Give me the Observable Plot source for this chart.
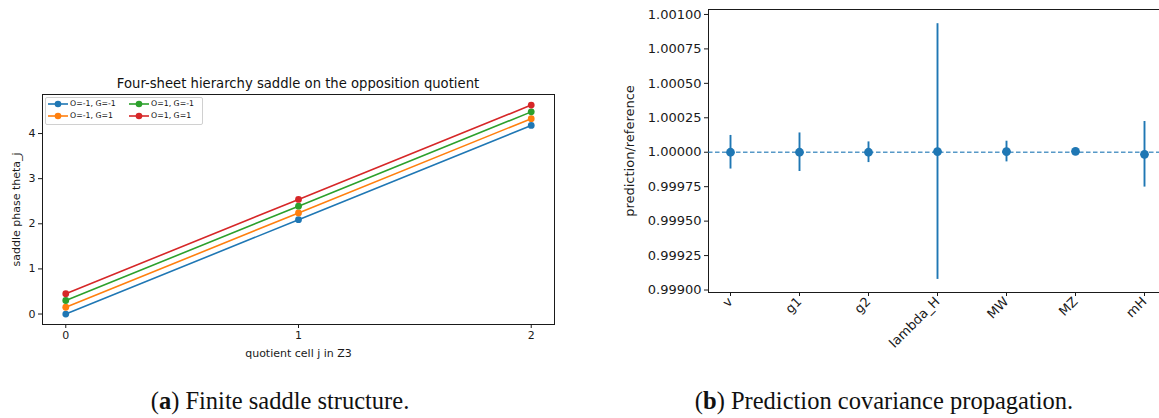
<!DOCTYPE html>
<html>
<head>
<meta charset="utf-8">
<script src="https://cdn.jsdelivr.net/npm/d3@7"></script>
<script src="https://cdn.jsdelivr.net/npm/@observablehq/plot@0.6"></script>
<style>
  html, body { margin: 0; padding: 0; background: #fff; }
  #page { position: relative; width: 1159px; height: 418px; overflow: hidden; font-family: "DejaVu Sans", sans-serif; }
  #panelA { position: absolute; left: 0; top: 0; width: 580px; height: 380px; }
  #panelB { position: absolute; left: 600px; top: 0; width: 580px; height: 380px; }
  #page svg { max-width: none !important; }
  .title { position: absolute; font-size: 13.2px; color: #111; white-space: nowrap; transform: translateX(-50%); }
  .legend { position: absolute; border: 1px solid #d0d0d0; border-radius: 2px; background: rgba(255,255,255,0.85); font-size: 7.8px; color: #111; }
  .legend .item { position: absolute; white-space: nowrap; }
  .legend svg { position: absolute; }
  .caption { position: absolute; font-family: "Liberation Serif", "DejaVu Serif", serif; font-size: 24.5px; color: #111; white-space: nowrap; transform: translateX(-50%); }
  .caption b { font-weight: bold; }
</style>
</head>
<body>
<div id="page">
  <div id="panelA"></div>
  <div id="panelB"></div>
</div>
<script>
// ---------- Panel (a) data ----------
const cells = [0, 1, 2];
const sheetLabels = ["O=-1, G=-1", "O=-1, G=1", "O=1, G=-1", "O=1, G=1"];
const sheetColors = ["#1f77b4", "#ff7f0e", "#2ca02c", "#d62728"];
const thetaOm1Gm1 = [0.00, 2.09, 4.18];
const thetaOm1G1  = [0.15, 2.24, 4.33];
const thetaO1Gm1  = [0.30, 2.39, 4.48];
const thetaO1G1   = [0.45, 2.54, 4.63];
const yTicksA = [0, 1, 2, 3, 4];
const titleA = "Four-sheet hierarchy saddle on the opposition quotient";

// ---------- Panel (b) data ----------
const params = ["v", "g1", "g2", "lambda_H", "MW", "MZ", "mH"];
const ratio  = [1.000000, 1.000000, 1.000000, 1.000005, 1.000005, 1.000007, 0.999985];
const sigma  = [0.000122, 0.000140, 0.000075, 0.000928, 0.000075, 0.000004, 0.000238];
const yTicksB = [0.99900, 0.99925, 0.99950, 0.99975, 1.00000, 1.00025, 1.00050, 1.00075, 1.00100];

const C0 = "#1f77b4";
const ink = "#1a1a1a";

// ---------- Panel (a) ----------
const seriesA = [thetaOm1Gm1, thetaOm1G1, thetaO1Gm1, thetaO1G1];
const rowsA = [];
seriesA.forEach((vals, s) => vals.forEach((v, i) => rowsA.push({j: cells[i], theta: v, sheet: sheetLabels[s]})));

const plotA = Plot.plot({
  width: 580, height: 380,
  marginLeft: 42, marginRight: 26, marginTop: 94, marginBottom: 56,
  style: {fontFamily: "DejaVu Sans", fontSize: "11px", color: ink, background: "transparent"},
  x: {domain: [-0.1, 2.1]},
  y: {domain: [-0.232, 4.865]},
  color: {domain: sheetLabels, range: sheetColors},
  marks: [
    Plot.frame({stroke: ink, strokeWidth: 1}),
    Plot.axisX({ticks: cells, tickFormat: d3.format("d"), tickSize: 4, tickPadding: 3, fontSize: 11,
      label: "quotient cell j in Z3", labelAnchor: "center", labelOffset: 32, labelArrow: "none"}),
    Plot.axisY({ticks: yTicksA, tickFormat: d3.format("d"), tickSize: 4, tickPadding: 3, fontSize: 11,
      label: "saddle phase theta_j", labelAnchor: "center", labelOffset: 30, labelArrow: "none"}),
    Plot.line(rowsA, {x: "j", y: "theta", z: "sheet", stroke: "sheet", strokeWidth: 1.6}),
    Plot.dot(rowsA, {x: "j", y: "theta", fill: "sheet", r: 3.4})
  ]
});
document.getElementById("panelA").appendChild(plotA);

// title
const page = document.getElementById("page");
const t = document.createElement("div");
t.className = "title"; t.textContent = titleA;
t.style.left = "298px"; t.style.top = "76px";
page.appendChild(t);

// legend
const lg = document.createElement("div");
lg.className = "legend";
Object.assign(lg.style, {left: "45px", top: "97px", width: "156px", height: "26px"});
const colX = [[2, 24], [83, 105]];
sheetLabels.forEach((lab, k) => {
  const col = k < 2 ? 0 : 1, row = k % 2;
  const [sx, tx] = colX[col];
  const yy = 6 + row * 11.5;
  const sw = document.createElementNS("http://www.w3.org/2000/svg", "svg");
  sw.setAttribute("width", "20"); sw.setAttribute("height", "8");
  sw.style.left = sx + "px"; sw.style.top = (yy - 4) + "px";
  sw.innerHTML = `<line x1="0" x2="20" y1="4" y2="4" stroke="${sheetColors[k]}" stroke-width="1.6"/><circle cx="10" cy="4" r="3.3" fill="${sheetColors[k]}"/>`;
  lg.appendChild(sw);
  const it = document.createElement("div");
  it.className = "item"; it.textContent = lab;
  it.style.left = tx + "px"; it.style.top = (yy - 5) + "px";
  lg.appendChild(it);
});
page.appendChild(lg);

// ---------- Panel (b) ----------
const rowsB = params.map((p, i) => ({param: p, r: ratio[i], lo: ratio[i] - sigma[i], hi: ratio[i] + sigma[i]}));

const plotB = Plot.plot({
  width: 580, height: 380,
  marginLeft: 108, marginRight: 15, marginTop: 9, marginBottom: 88,
  style: {fontFamily: "DejaVu Sans", fontSize: "13px", color: ink, background: "transparent"},
  x: {type: "point", domain: params, padding: 0.3},
  y: {domain: [0.998982, 1.001036]},
  marks: [
    Plot.frame({stroke: ink, strokeWidth: 1}),
    Plot.axisX({tickSize: 4, tickPadding: 3, tickRotate: -45, fontSize: 13, label: null}),
    Plot.axisY({ticks: yTicksB, tickFormat: d3.format(".5f"), tickSize: 4, tickPadding: 3, fontSize: 13,
      label: "prediction/reference", labelAnchor: "center", labelOffset: 84, labelArrow: "none"}),
    Plot.ruleY([1], {stroke: C0, strokeOpacity: 0.75, strokeWidth: 1.3, strokeDasharray: "4.5,2.5"}),
    Plot.ruleX(rowsB, {x: "param", y1: "lo", y2: "hi", stroke: C0, strokeWidth: 1.9}),
    Plot.dot(rowsB, {x: "param", y: "r", fill: C0, r: 4.4})
  ]
});
document.getElementById("panelB").appendChild(plotB);

// captions
const capA = document.createElement("div");
capA.className = "caption"; capA.innerHTML = "(<b>a</b>) Finite saddle structure.";
capA.style.left = "280px"; capA.style.top = "387px";
page.appendChild(capA);
const capB = document.createElement("div");
capB.className = "caption"; capB.innerHTML = "(<b>b</b>) Prediction covariance propagation.";
capB.style.left = "884px"; capB.style.top = "387px";
page.appendChild(capB);
</script>
</body>
</html>
